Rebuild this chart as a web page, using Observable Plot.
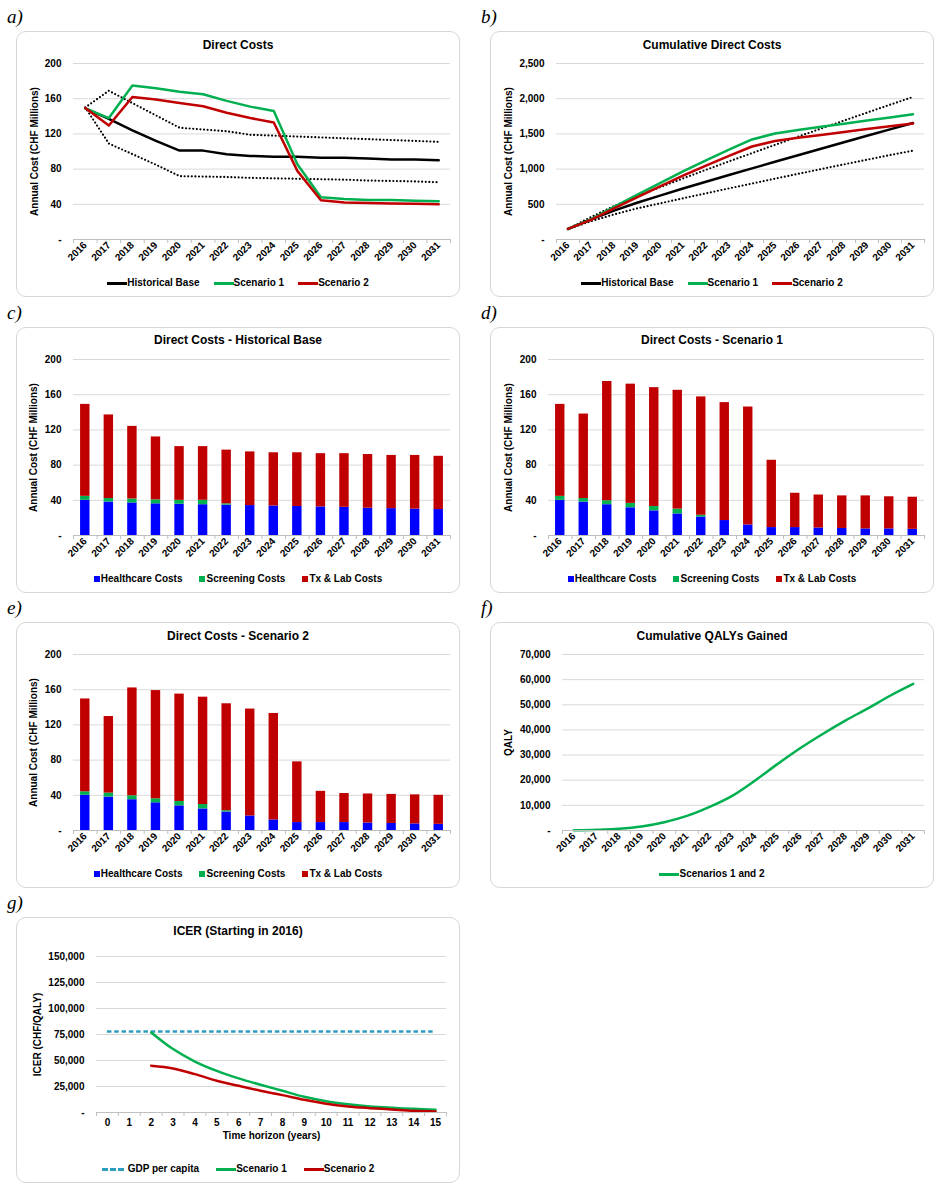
<!DOCTYPE html>
<html><head><meta charset="utf-8">
<script src="https://cdn.jsdelivr.net/npm/d3@7"></script>
<script src="https://cdn.jsdelivr.net/npm/@observablehq/plot@0.6"></script>
<style>
body{margin:0;background:#fff;font-family:"Liberation Sans",Arial,sans-serif;}
#root{position:relative;width:950px;height:1200px;overflow:hidden;}
.panel{position:absolute;width:444px;height:266px;}
.frame{position:absolute;left:0;top:0;right:0;bottom:0;border:1.5px solid #d6d6d6;border-radius:10px;}
.panel svg{position:absolute;left:0;top:0;}
.ttl{position:absolute;left:0;right:0;text-align:center;font-weight:bold;font-size:12px;line-height:14px;color:#000;}
.leg{position:absolute;left:0;right:0;display:flex;justify-content:center;align-items:center;font-weight:bold;font-size:10px;line-height:12px;color:#000;}
.leg .it{display:flex;align-items:center;}
.sw-line{display:inline-block;width:20px;height:0;border-top:3px solid #000;margin-right:0px;}
.sw-sq{display:inline-block;width:6px;height:6px;margin-right:1px;}
.plabel{position:absolute;font-family:"Liberation Serif","Times New Roman",serif;font-style:italic;font-size:19px;line-height:20px;}
</style></head>
<body><div id="root"></div>
<script>
// ---------- data ----------
const years = [2016,2017,2018,2019,2020,2021,2022,2023,2024,2025,2026,2027,2028,2029,2030,2031];

// a) annual direct costs (CHF millions)
const historicalTotal = [149,137,124,112,101,101,97,95,94,94,93,93,92,91,91,90];
const scenario1Total  = [149,138,175,172,168,165,157.5,151,146,85.5,48,46,45,45,44,43.5];
const scenario2Total  = [149.5,129.5,162,159,155,151.5,144,138,133,78,44.5,42,41.5,41,40.5,40];
const historicalUpper = [150,169,155,141,127,125,123,119,118,117,116,115,114,113,112,111];
const historicalLower = [150,109,97,85,72,71.5,71,70,69.5,69,68.5,68,67,66.5,66,65];

// b) cumulative direct costs (CHF millions)
const historicalCum = [149,286,410,522,623,724,821,916,1010,1104,1197,1290,1382,1473,1564,1654];
const scenario1Cum  = [149,287,462,634,802,967,1124,1275,1421,1506,1554,1600,1645,1690,1734,1778];
const scenario2Cum  = [150,279,441,600,755,906,1050,1188,1321,1399,1444,1486,1527,1568,1609,1649];
const upperCum      = [150,319,474,615,742,867,990,1109,1227,1344,1460,1575,1689,1802,1914,2025];
const lowerCum      = [150,259,356,441,513,585,656,726,795,864,932,1000,1067,1133,1199,1262];

// c) historical base components
const histHealthcare = [40,38,37,36,35.5,35,34.5,34,33.5,33,32.5,32,31,30.5,30,29.5];
const histScreening  = [4.5,4,4.5,4.5,4.5,5,1.5,0,0,0,0,0,0,0,0,0];
const histTxLab      = [104.5,95,82.5,71.5,61,61,61,61,60.5,61,60.5,61,61,60.5,61,60.5];

// d) scenario 1 components
const s1Healthcare = [40,38,35,31.5,28,24.5,21,17,12,9,9,8.5,8,7.5,7.5,7];
const s1Screening  = [4.5,4,4.5,5,5,5.5,2,0,0,0,0,0,0,0,0,0];
const s1TxLab      = [104.5,96,135.5,135.5,135,135,134.5,134,134,76.5,39,37.5,37,37.5,36.5,36.5];

// e) scenario 2 components
const s2Healthcare = [40,38,35,31.5,28,24.5,21,16.5,12,9,9,9,8.5,8,7.5,7];
const s2Screening  = [4,4.5,4.5,4.5,5,5,1.5,0,0,0,0,0,0,0,0,0];
const s2TxLab      = [105.5,87,122.5,123,122,122,121.5,121.5,121,69,35.5,33,33,33,33,33];

// f) cumulative QALYs gained
const qalyCum = [100,300,700,1600,3300,5800,9400,13800,19800,26400,32700,38400,43700,48600,53700,58300];

// g) ICER
const horizons = [0,1,2,3,4,5,6,7,8,9,10,11,12,13,14,15];
const icerHorizons = [2,3,4,5,6,7,8,9,10,11,12,13,14,15];
const icerScenario1 = [77000,61000,49000,40000,32800,26700,20900,15100,10900,8000,5800,4500,3500,2600];
const icerScenario2 = [45000,42400,36900,30500,25700,20900,16700,12200,8400,5800,4200,2900,1600,1000];
const gdpPerCapita = 78000;

const costTypes = ["Healthcare Costs","Screening Costs","Tx & Lab Costs"];
const costColors = ["#0000FF","#00B050","#C00000"];
const GREEN = "#00B050", RED = "#C00000", BLACK = "#000000", GDPBLUE = "#2E9DC0";

// ---------- helpers ----------
const root = document.getElementById("root");
const fmtY = d => d === 0 ? "-" : d3.format(",")(d);

function makePanel({left, top, label}) {
  const p = document.createElement("div");
  p.className = "panel"; p.style.left = left + "px"; p.style.top = top + "px";
  const f = document.createElement("div"); f.className = "frame"; p.appendChild(f);
  root.appendChild(p);
  const lab = document.createElement("div");
  lab.className = "plabel"; lab.textContent = label;
  lab.style.left = (left - 9) + "px"; lab.style.top = (top - 24) + "px";
  root.appendChild(lab);
  return p;
}
function addTitle(p, text, y) {
  const t = document.createElement("div"); t.className = "ttl"; t.textContent = text;
  t.style.top = (y - 7) + "px"; p.appendChild(t);
}
function addLegend(p, items, y, gap) {
  const l = document.createElement("div"); l.className = "leg";
  l.style.top = (y - 6) + "px"; l.style.gap = gap + "px";
  for (const it of items) {
    const d = document.createElement("div"); d.className = "it";
    const s = document.createElement("span");
    if (it.square) { s.className = "sw-sq"; s.style.background = it.color; }
    else { s.className = "sw-line"; s.style.borderTopColor = it.color;
      if (it.dash) { s.style.borderTopStyle = "dashed"; s.style.width = "22px"; s.style.marginRight = "4px"; } }
    const tx = document.createElement("span"); tx.textContent = it.label;
    d.appendChild(s); d.appendChild(tx); l.appendChild(d);
  }
  p.appendChild(l);
}

const plotStyle = {fontFamily: '"Liberation Sans", Arial, sans-serif', fontSize: "10px", fontWeight: "bold", color: "#000", background: "transparent", overflow: "visible"};

function chart({ml, mr = 10, mt = 32, mb = 58, xs, yDomain, yTicks, yLabel, yLabelDx, marks, extra = [], rotate = -45, color}) {
  const bounds = xs.map(v => v - 0.5).concat([xs[xs.length - 1] + 0.5]);
  return Plot.plot({
    width: 444, height: 266,
    marginLeft: ml, marginRight: mr, marginTop: mt, marginBottom: mb,
    x: {type: "linear", domain: [bounds[0], bounds[bounds.length - 1]]},
    y: {domain: yDomain},
    color,
    style: plotStyle,
    marks: [
      Plot.gridY(yTicks, {stroke: "#d9d9d9", strokeOpacity: 1}),
      Plot.axisY(yTicks, {tickSize: 0, tickPadding: 12, tickFormat: fmtY, label: null}),
      ...marks,
      Plot.ruleY([0], {stroke: "#bfbfbf", strokeWidth: 1}),
      Plot.axisX(bounds, {tickSize: 4, tickFormat: () => "", stroke: "#bfbfbf", label: null}),
      Plot.axisX(xs, {tickSize: 0, tickPadding: rotate ? 4 : 6, tickRotate: rotate, tickFormat: d => String(d), label: null}),
      Plot.text([yLabel], {text: d => d, frameAnchor: "left", textAnchor: "middle", dx: yLabelDx, rotate: -90, fontSize: 10, fontWeight: "bold"}),
      ...extra
    ]
  });
}

function lineRows(arrs) {
  return years.map((year, i) => { const r = {year}; for (const k in arrs) r[k] = arrs[k][i]; return r; });
}
function barRows(hc, sc, tx) {
  return years.flatMap((year, i) => [
    {year, type: costTypes[0], value: hc[i]},
    {year, type: costTypes[1], value: sc[i]},
    {year, type: costTypes[2], value: tx[i]}
  ]);
}
const barHalf = 0.2;
function barMarks(rows) {
  return [Plot.rectY(rows, Plot.stackY({x1: d => d.year - barHalf, x2: d => d.year + barHalf, y: "value", fill: "type"}))];
}
const dotted = {stroke: BLACK, strokeWidth: 2.2, strokeDasharray: "0 3.6", strokeLinecap: "round"};
const lineLegend = [{label: "Historical Base", color: BLACK}, {label: "Scenario 1", color: GREEN}, {label: "Scenario 2", color: RED}];
const barLegend = costTypes.map((t, i) => ({label: t, color: costColors[i], square: true}));
const costColor = {domain: costTypes, range: costColors};

// ---------- a) ----------
{
  const p = makePanel({left: 16, top: 31, label: "a)"});
  const rows = lineRows({hist: historicalTotal, s1: scenario1Total, s2: scenario2Total, up: historicalUpper, lo: historicalLower});
  p.appendChild(chart({ml: 57, xs: years, yDomain: [0, 200], yTicks: [0,40,80,120,160,200],
    yLabel: "Annual Cost (CHF Millions)", yLabelDx: -39,
    marks: [
      Plot.lineY(rows, {x: "year", y: "up", ...dotted}),
      Plot.lineY(rows, {x: "year", y: "lo", ...dotted}),
      Plot.lineY(rows, {x: "year", y: "hist", stroke: BLACK, strokeWidth: 2.5}),
      Plot.lineY(rows, {x: "year", y: "s1", stroke: GREEN, strokeWidth: 2.5}),
      Plot.lineY(rows, {x: "year", y: "s2", stroke: RED, strokeWidth: 2.5})
    ]}));
  addTitle(p, "Direct Costs", 14);
  addLegend(p, lineLegend, 252, 14);
}
// ---------- b) ----------
{
  const p = makePanel({left: 490, top: 31, label: "b)"});
  const rows = lineRows({hist: historicalCum, s1: scenario1Cum, s2: scenario2Cum, up: upperCum, lo: lowerCum});
  p.appendChild(chart({ml: 66, xs: years, yDomain: [0, 2500], yTicks: [0,500,1000,1500,2000,2500],
    yLabel: "Annual Cost (CHF Millions)", yLabelDx: -48,
    marks: [
      Plot.lineY(rows, {x: "year", y: "up", ...dotted}),
      Plot.lineY(rows, {x: "year", y: "lo", ...dotted}),
      Plot.lineY(rows, {x: "year", y: "hist", stroke: BLACK, strokeWidth: 2.5}),
      Plot.lineY(rows, {x: "year", y: "s1", stroke: GREEN, strokeWidth: 2.5}),
      Plot.lineY(rows, {x: "year", y: "s2", stroke: RED, strokeWidth: 2.5})
    ]}));
  addTitle(p, "Cumulative Direct Costs", 14);
  addLegend(p, lineLegend, 252, 14);
}
// ---------- c) ----------
{
  const p = makePanel({left: 16, top: 327, label: "c)"});
  p.appendChild(chart({ml: 57, xs: years, yDomain: [0, 200], yTicks: [0,40,80,120,160,200], color: costColor,
    yLabel: "Annual Cost (CHF Millions)", yLabelDx: -40, marks: barMarks(barRows(histHealthcare, histScreening, histTxLab))}));
  addTitle(p, "Direct Costs - Historical Base", 13);
  addLegend(p, barLegend, 252, 17);
}
// ---------- d) ----------
{
  const p = makePanel({left: 490, top: 327, label: "d)"});
  p.appendChild(chart({ml: 58, xs: years, yDomain: [0, 200], yTicks: [0,40,80,120,160,200], color: costColor,
    yLabel: "Annual Cost (CHF Millions)", yLabelDx: -40, marks: barMarks(barRows(s1Healthcare, s1Screening, s1TxLab))}));
  addTitle(p, "Direct Costs - Scenario 1", 13);
  addLegend(p, barLegend, 252, 17);
}
// ---------- e) ----------
{
  const p = makePanel({left: 16, top: 622, label: "e)"});
  p.appendChild(chart({ml: 57, xs: years, yDomain: [0, 200], yTicks: [0,40,80,120,160,200], color: costColor,
    yLabel: "Annual Cost (CHF Millions)", yLabelDx: -40, marks: barMarks(barRows(s2Healthcare, s2Screening, s2TxLab))}));
  addTitle(p, "Direct Costs - Scenario 2", 14);
  addLegend(p, barLegend, 252, 17);
}
// ---------- f) ----------
{
  const p = makePanel({left: 490, top: 622, label: "f)"});
  const rows = lineRows({q: qalyCum});
  p.appendChild(chart({ml: 72, xs: years, yDomain: [0, 70000], yTicks: [0,10000,20000,30000,40000,50000,60000,70000],
    yLabel: "QALY", yLabelDx: -54,
    marks: [Plot.lineY(rows, {x: "year", y: "q", stroke: GREEN, strokeWidth: 2.5, curve: "catmull-rom"})]}));
  addTitle(p, "Cumulative QALYs Gained", 14);
  addLegend(p, [{label: "Scenarios 1 and 2", color: GREEN}], 252, 14);
}
// ---------- g) ----------
{
  const p = makePanel({left: 16, top: 917, label: "g)"});
  const icerRows = icerHorizons.map((h, i) => ({h, s1: icerScenario1[i], s2: icerScenario2[i]}));
  p.appendChild(chart({ml: 80, mr: 14, mt: 39, mb: 71, xs: horizons, rotate: 0,
    yDomain: [0, 150000], yTicks: [0,25000,50000,75000,100000,125000,150000],
    yLabel: "ICER (CHF/QALY)", yLabelDx: -59,
    marks: [
      Plot.ruleY([gdpPerCapita], {x1: horizons[0], x2: horizons[horizons.length - 1], stroke: GDPBLUE, strokeWidth: 2.5, strokeDasharray: "4.5 2.8"}),
      Plot.lineY(icerRows, {x: "h", y: "s1", stroke: GREEN, strokeWidth: 2.5, curve: "catmull-rom"}),
      Plot.lineY(icerRows, {x: "h", y: "s2", stroke: RED, strokeWidth: 2.5, curve: "catmull-rom"})
    ],
    extra: [Plot.text(["Time horizon (years)"], {text: d => d, frameAnchor: "bottom", dy: 26, fontSize: 10, fontWeight: "bold"})]
  }));
  addTitle(p, "ICER (Starting in 2016)", 14);
  addLegend(p, [{label: "GDP per capita", color: GDPBLUE, dash: true}, {label: "Scenario 1", color: GREEN}, {label: "Scenario 2", color: RED}], 252, 17);
}
</script></body></html>
